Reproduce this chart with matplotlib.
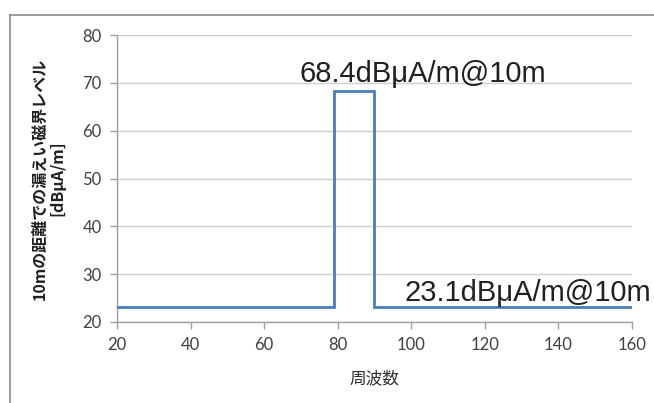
import matplotlib
matplotlib.use("Agg")
import matplotlib.pyplot as plt
from matplotlib.lines import Line2D

plt.rcParams['font.family'] = ['Noto Sans CJK JP', 'DejaVu Sans']

freq = [20, 79, 79, 90, 90, 160]
level = [23.1, 23.1, 68.4, 68.4, 23.1, 23.1]
x_ticks = [20, 40, 60, 80, 100, 120, 140, 160]
y_ticks = [20, 30, 40, 50, 60, 70, 80]
peak_label = "68.4dBμA/m@10m"
base_label = "23.1dBμA/m@10m"
xlabel = "周波数"
ylabel = "10mの距離での漏えい磁界レベル\n[dBμA/m]"

fig = plt.figure(figsize=(6.54, 4.03), dpi=100)
ax = fig.add_axes([0.179, 0.201, 0.787, 0.712])

ax.plot(freq, level, color='#4a7ebb', lw=2.0, solid_joinstyle='miter', zorder=3)
ax.set_xlim(20, 160)
ax.set_ylim(20, 80)
ax.set_xticks(x_ticks)
ax.set_yticks(y_ticks)
ax.yaxis.grid(True, color='#cfcfcf', lw=1.0)
ax.set_axisbelow(True)
for s in ['top', 'right']:
    ax.spines[s].set_visible(False)
for s in ['left', 'bottom']:
    ax.spines[s].set_color('#a0a0a0')
    ax.spines[s].set_linewidth(1.0)
ax.tick_params(axis='both', colors='#a0a0a0', length=5, width=1.0,
               labelcolor='#404040', labelsize=12)
for lab in ax.get_xticklabels() + ax.get_yticklabels():
    lab.set_family(['Lato', 'DejaVu Sans'])
ax.tick_params(axis='x', pad=6)
ax.tick_params(axis='y', pad=6)

ax.set_xlabel(xlabel, fontsize=12, color='#303030', labelpad=12)
ax.set_ylabel(ylabel, fontsize=11.5, fontweight='bold', color='#202020',
              labelpad=12, linespacing=1.15)

ax.text(69.7, 70.2, peak_label, fontsize=21, family=['Liberation Sans'],
        color='#202020', ha='left', va='baseline', zorder=4)
ax.text(98.3, 24.4, base_label, fontsize=21, family=['Liberation Sans'],
        color='#202020', ha='left', va='baseline', zorder=4, clip_on=False)

# outer frame lines
fig.add_artist(Line2D([10/654, 10/654], [0, 1 - 15/403], color='#8a8a8a', lw=1.2,
                      transform=fig.transFigure))
fig.add_artist(Line2D([10/654, 1], [1 - 15/403, 1 - 15/403], color='#8a8a8a', lw=1.2,
                      transform=fig.transFigure))

fig.savefig('out.png', dpi=100)
